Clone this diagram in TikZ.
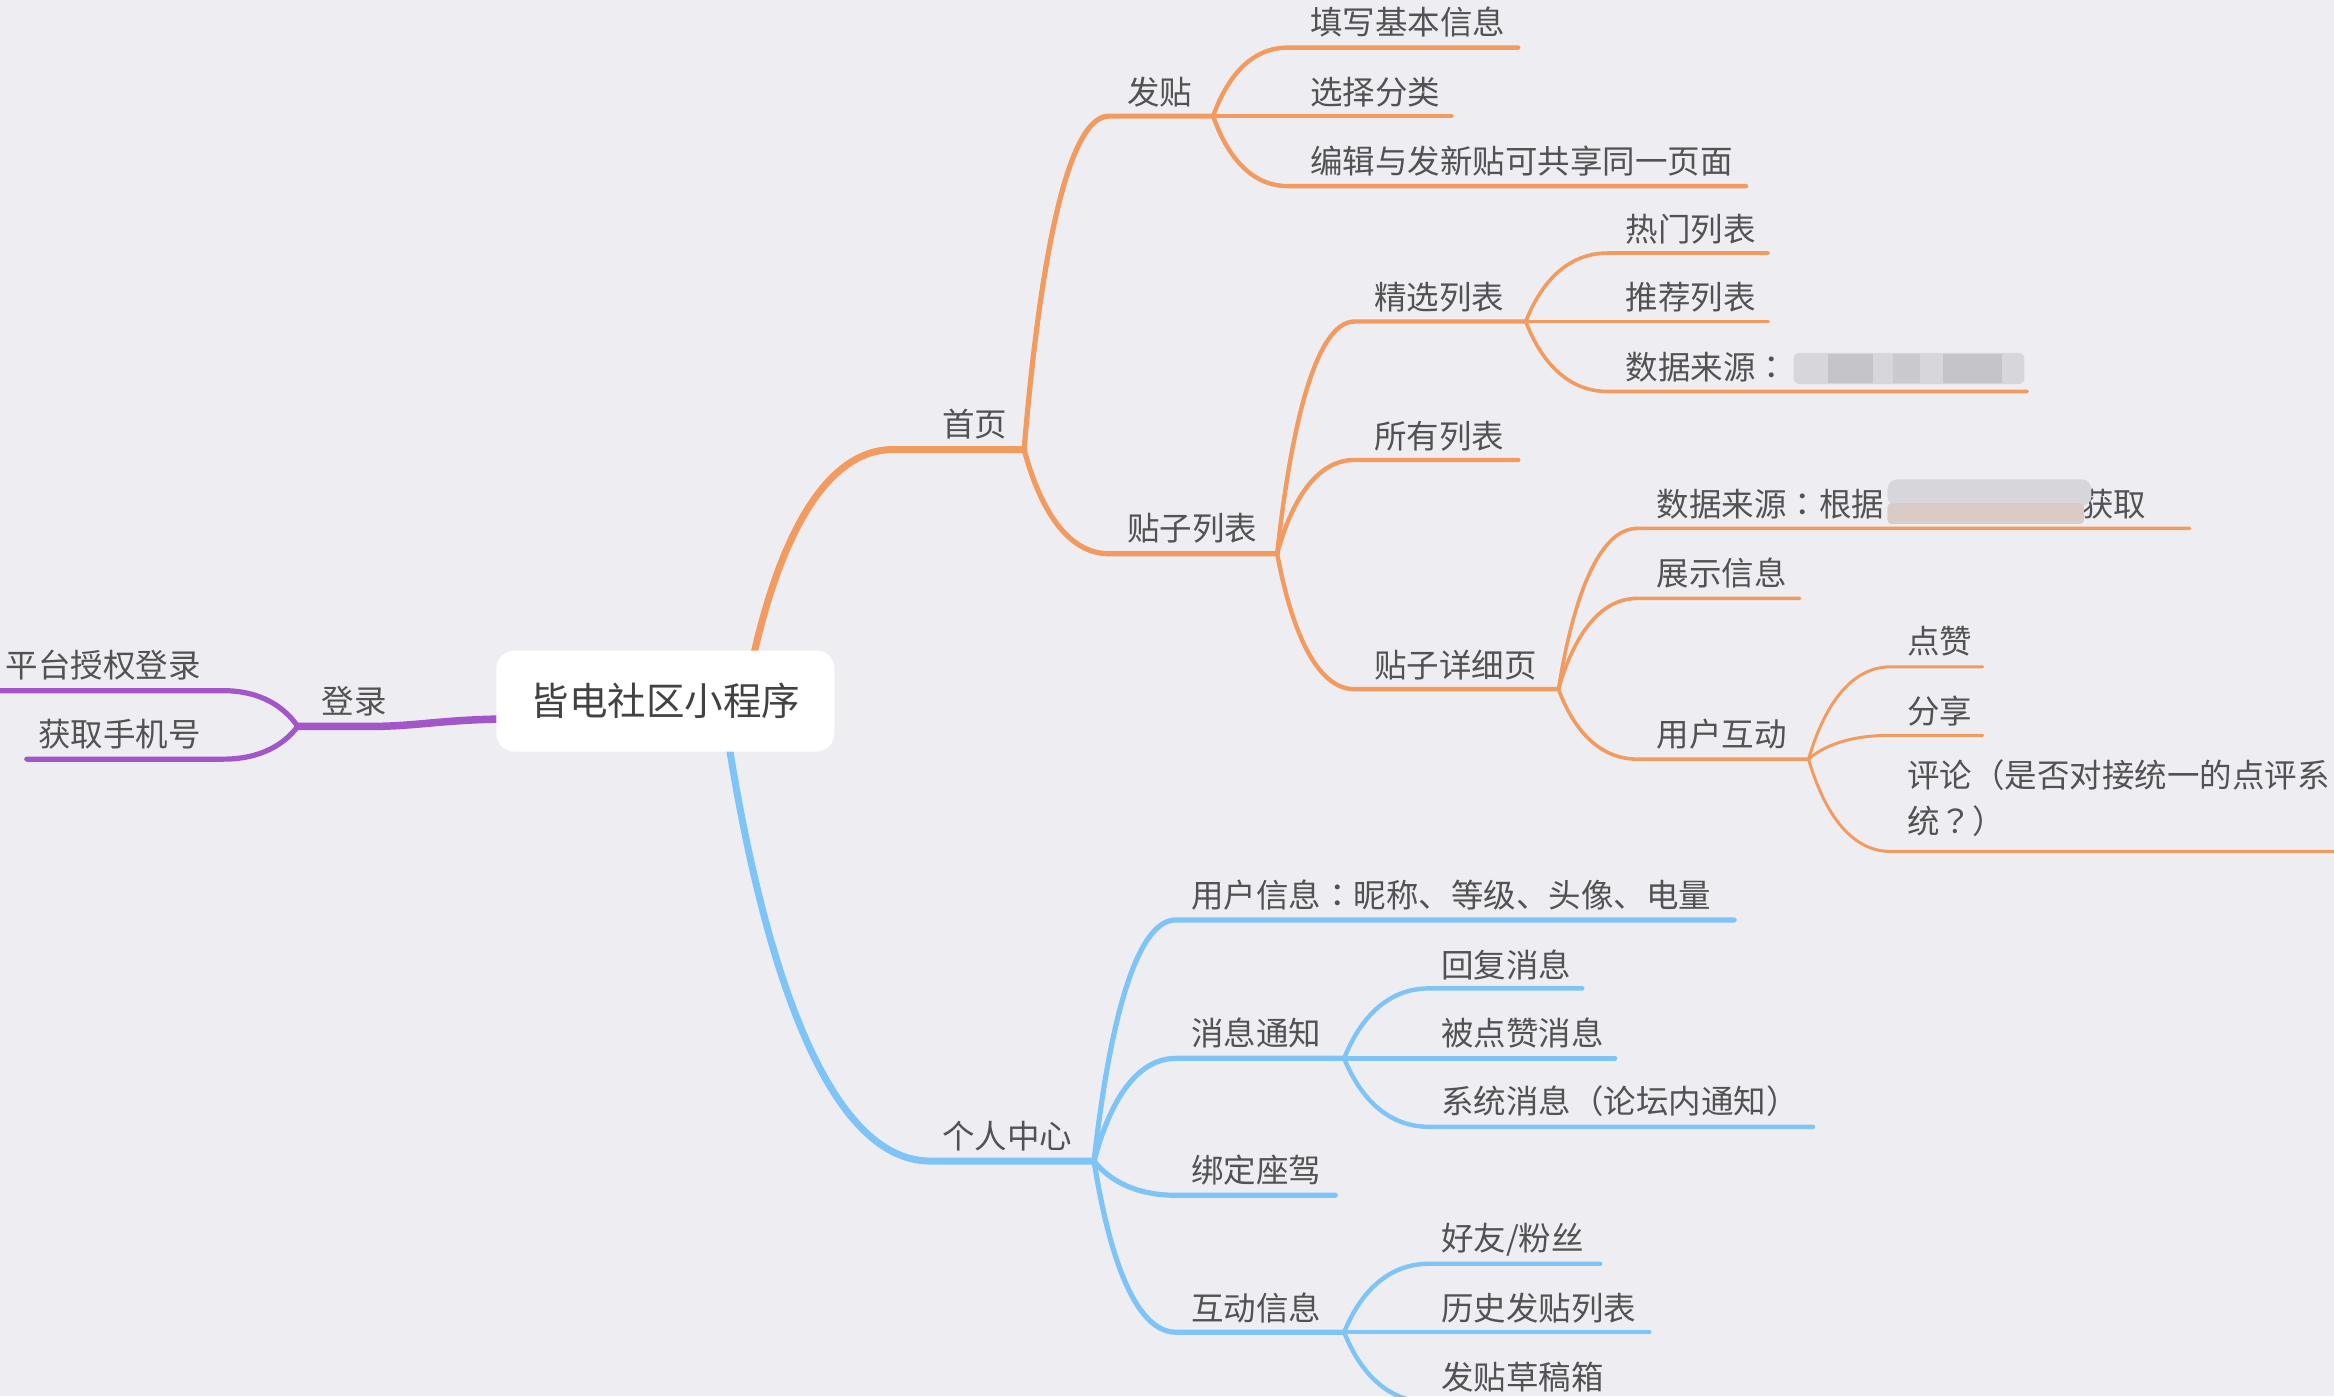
\documentclass[tikz,border=0pt]{standalone}
\usepackage{fontspec}
\setmainfont{Noto Sans CJK SC}
\newfontfamily\tcfont{Noto Sans CJK TC}
\newcommand\cc{{\tcfont ：}}
\newcommand\qq{{\tcfont ？}}
\usetikzlibrary{calc}
\pgfdeclarelayer{back}
\pgfsetlayers{back,main}
\definecolor{bg}{RGB}{238,238,242}
\definecolor{org}{RGB}{243,155,95}
\definecolor{blu}{RGB}{126,196,246}
\definecolor{pur}{RGB}{162,86,202}
\definecolor{txt}{RGB}{82,82,85}
\definecolor{blurA}{RGB}{214,214,219}
\definecolor{blurB}{RGB}{196,196,201}
\definecolor{blurC}{RGB}{218,203,198}
\newcommand\mmlink[4][]{%
  \draw[#1] let \p1=(#2), \p2=(#3) in (\p1) .. controls
    (\x1+0.18*\x2-0.18*\x1, \y1+0.55*\y2-0.55*\y1) and (\x1+0.5*\x2-0.5*\x1, \y2) .. (\p2) -- (#4);}
\tikzset{
  lbl/.style={anchor=west, inner sep=0pt, text=txt, font=\fontsize{32.5}{46}\selectfont},
  lblr/.style={lbl, anchor=east},
  rootbox/.style={fill=white, rounded corners=18pt, minimum width=338pt, minimum height=101pt,
    inner sep=0pt, text=txt!80!black, font=\fontsize{38.5}{44}\selectfont},
  lw1/.style={line width=7pt, line cap=round, line join=round},
  lw2/.style={line width=5.2pt, line cap=round, line join=round},
  lw3/.style={line width=4.4pt, line cap=round, line join=round},
  lw4/.style={line width=3.6pt, line cap=round, line join=round},
  lw5/.style={line width=3pt, line cap=round, line join=round},
}
\begin{document}
\begin{tikzpicture}[x=1.4885pt, y=-1.4885pt]
\useasboundingbox (0,0) rectangle (1568,938);
\clip (0,0) rectangle (1568,938);
\begin{pgfonlayer}{back}
\fill[bg] (0,0) rectangle (1568,938);
\end{pgfonlayer}

% root
\node[rootbox] (root) at (447,471) {皆电社区小程序};

% ---------- coordinates ----------
% purple
\coordinate (rootW) at (345,483);
\coordinate (loginK) at (250,488);
\coordinate (loginE) at (200,488);
\coordinate (ptK) at (150,464); \coordinate (ptE) at (0,464);
\coordinate (sjK) at (150,510); \coordinate (sjE) at (18,510);
% orange
\coordinate (rootN) at (505,446);
\coordinate (syK) at (600,302); \coordinate (syE) at (688,302);
\coordinate (ftK) at (745,78);  \coordinate (ftE) at (815,78);
\coordinate (tzK) at (745,372); \coordinate (tzE) at (858,372);
\coordinate (txK) at (865,32);  \coordinate (txE) at (1020,32);
\coordinate (xzK) at (865,78);  \coordinate (xzE) at (975,78);
\coordinate (bjK) at (865,125); \coordinate (bjE) at (1173,125);
\coordinate (jxK) at (910,216); \coordinate (jxE) at (1025,216);
\coordinate (syyK) at (910,309); \coordinate (syyE) at (1020,309);
\coordinate (xqK) at (910,463); \coordinate (xqE) at (1047,463);
\coordinate (rmK) at (1080,170); \coordinate (rmE) at (1188,170);
\coordinate (tjK) at (1080,216); \coordinate (tjE) at (1188,216);
\coordinate (ly1K) at (1080,263); \coordinate (ly1E) at (1362,263);
\coordinate (ly2K) at (1100,355); \coordinate (ly2E) at (1471,355);
\coordinate (zsK) at (1100,402); \coordinate (zsE) at (1209,402);
\coordinate (hdK) at (1100,510); \coordinate (hdE) at (1215,510);
\coordinate (dzK) at (1270,448); \coordinate (dzE) at (1332,448);
\coordinate (fxK) at (1270,494); \coordinate (fxE) at (1332,494);
\coordinate (plK) at (1270,572); \coordinate (plE) at (1575,572);
% blue
\coordinate (rootS) at (489,496);
\coordinate (grK) at (625,780); \coordinate (grE) at (735,780);
\coordinate (yhK) at (790,618); \coordinate (yhE) at (1165,618);
\coordinate (xxK) at (790,711); \coordinate (xxE) at (903,711);
\coordinate (bdK) at (790,803); \coordinate (bdE) at (897,803);
\coordinate (hxK) at (790,895); \coordinate (hxE) at (903,895);
\coordinate (hfK) at (960,664); \coordinate (hfE) at (1063,664);
\coordinate (bzK) at (960,711); \coordinate (bzE) at (1085,711);
\coordinate (xtK) at (960,757); \coordinate (xtE) at (1218,757);
\coordinate (hyK) at (960,849); \coordinate (hyE) at (1075,849);
\coordinate (lsK) at (960,895); \coordinate (lsE) at (1108,895);
\coordinate (cgK) at (960,942); \coordinate (cgE) at (1090,942);

% ---------- connectors ----------
\begin{pgfonlayer}{back}
% purple
\draw[lw1, pur, line width=7.5pt] (rootW) .. controls (300,483) and (280,488) .. (loginK) -- (loginE);
\mmlink[lw2, pur]{loginE}{ptK}{ptE}
\mmlink[lw2, pur]{loginE}{sjK}{sjE}
% orange
\mmlink[lw1, org]{rootN}{syK}{syE}
\mmlink[lw2, org]{syE}{ftK}{ftE}
\mmlink[lw2, org]{syE}{tzK}{tzE}
\mmlink[lw3, org]{ftE}{txK}{txE}
\mmlink[lw3, org]{ftE}{xzK}{xzE}
\mmlink[lw3, org]{ftE}{bjK}{bjE}
\mmlink[lw3, org]{tzE}{jxK}{jxE}
\mmlink[lw3, org]{tzE}{syyK}{syyE}
\mmlink[lw3, org]{tzE}{xqK}{xqE}
\mmlink[lw4, org]{jxE}{rmK}{rmE}
\mmlink[lw4, org]{jxE}{tjK}{tjE}
\mmlink[lw4, org]{jxE}{ly1K}{ly1E}
\mmlink[lw4, org]{xqE}{ly2K}{ly2E}
\mmlink[lw4, org]{xqE}{zsK}{zsE}
\mmlink[lw4, org]{xqE}{hdK}{hdE}
\mmlink[lw5, org]{hdE}{dzK}{dzE}
\mmlink[lw5, org]{hdE}{fxK}{fxE}
\mmlink[lw5, org]{hdE}{plK}{plE}
% blue
\mmlink[lw1, blu]{rootS}{grK}{grE}
\mmlink[lw2, blu]{grE}{yhK}{yhE}
\mmlink[lw2, blu]{grE}{xxK}{xxE}
\mmlink[lw2, blu]{grE}{bdK}{bdE}
\mmlink[lw2, blu]{grE}{hxK}{hxE}
\mmlink[lw3, blu]{xxE}{hfK}{hfE}
\mmlink[lw3, blu]{xxE}{bzK}{bzE}
\mmlink[lw3, blu]{xxE}{xtK}{xtE}
\mmlink[lw3, blu]{hxE}{hyK}{hyE}
\mmlink[lw3, blu]{hxE}{lsK}{lsE}
\mmlink[lw3, blu]{hxE}{cgK}{cgE}
\end{pgfonlayer}

% ---------- labels ----------
\node[lbl, anchor=center] (login) at (238,471) {登录};
\node[lblr] (pt) at (135,447) {平台授权登录};
\node[lblr] (sj) at (135,493) {获取手机号};

\node[lbl] (sy) at (633,285) {首页};
\node[lbl] (ft) at (757,62) {发贴};
\node[lbl] (tz) at (757,355) {贴子列表};
\node[lbl] (tx) at (880,15) {填写基本信息};
\node[lbl] (xz) at (880,62) {选择分类};
\node[lbl] (bj) at (880,108) {编辑与发新贴可共享同一页面};
\node[lbl] (jx) at (923,200) {精选列表};
\node[lbl] (syy) at (923,293) {所有列表};
\node[lbl] (xq) at (923,447) {贴子详细页};
\node[lbl] (rm) at (1092,154) {热门列表};
\node[lbl] (tj) at (1092,200) {推荐列表};
\node[lbl] (ly1) at (1092,247) {数据来源\cc};
\node[lbl] (ly2) at (1113,339) {数据来源\cc 根据};
\node[lbl] (ly2b) at (1398,339) {获取};
\node[lbl] (zs) at (1113,385) {展示信息};
\node[lbl] (hd) at (1113,493) {用户互动};
\node[lbl] (dz) at (1281,431) {点赞};
\node[lbl] (fx) at (1281,478) {分享};
\node[lbl, anchor=north west, align=left] (pl) at (1281,510) {评论（是否对接统一的点评系\\统\qq）};

\node[lbl] (gr) at (633,763) {个人中心};
\node[lbl] (yh) at (800,601) {用户信息\cc 昵称、等级、头像、电量};
\node[lbl] (xx) at (800,694) {消息通知};
\node[lbl] (bd) at (800,786) {绑定座驾};
\node[lbl] (hx) at (800,879) {互动信息};
\node[lbl] (hf) at (968,648) {回复消息};
\node[lbl] (bz) at (968,694) {被点赞消息};
\node[lbl] (xt) at (968,740) {系统消息（论坛内通知）};
\node[lbl] (hy) at (968,833) {好友/粉丝};
\node[lbl] (ls) at (968,879) {历史发贴列表};
\node[lbl] (cg) at (968,925) {发贴草稿箱};

% ---------- blurred areas ----------
\fill[blurA, rounded corners=6pt] (1205,237) rectangle (1360,258);
\fill[blurB] (1228,238) rectangle (1258,257);
\fill[blurB!90!white] (1272,238) rectangle (1290,257);
\fill[blurB] (1305,238) rectangle (1345,257);
\fill[blurA, rounded corners=10pt] (1268,322) rectangle (1405,340);
\fill[blurC, rounded corners=4pt] (1268,338) rectangle (1400,352);
\end{tikzpicture}
\end{document}
